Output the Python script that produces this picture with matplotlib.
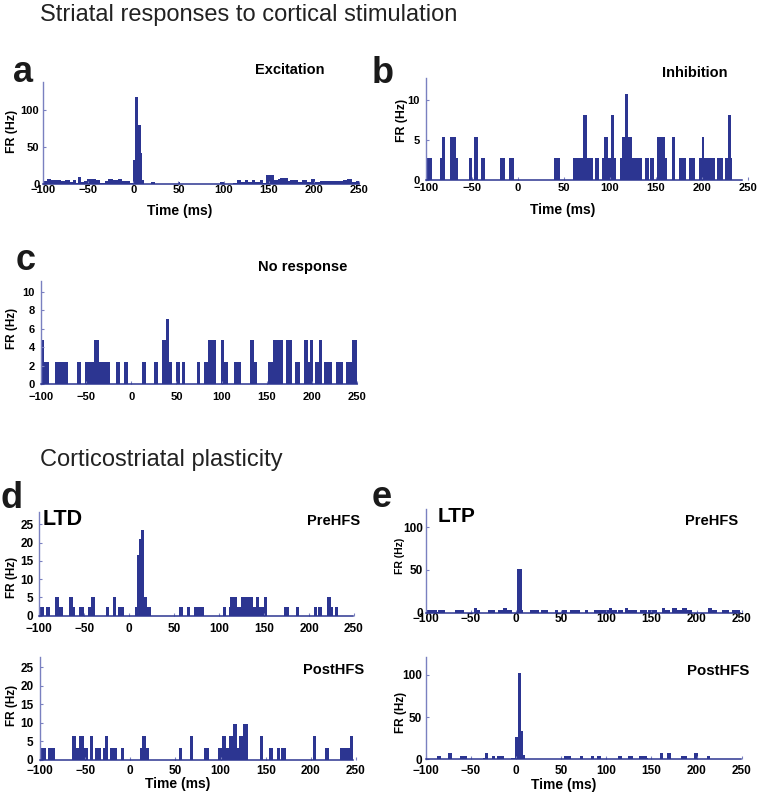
import matplotlib
matplotlib.use("Agg")
import matplotlib.pyplot as plt

plt.rcParams['font.family'] = ['Liberation Sans', 'DejaVu Sans']
plt.rcParams['font.weight'] = 'bold'
plt.rcParams['axes.labelweight'] = 'bold'

# ---------------- data (step histograms: bin edges in ms, firing rate in Hz) ----------------
a_edges = [-100, -96, -91, -80, -76, -70, -67, -63, -61, -57.5, -55, -51, -41, -37, -31.5, -28,
           -22.5, -17, -12, -4, 0, 2, 5.5, 8, 10, 12, 20, 24, 50, 51.5, 96, 100, 110.5, 115, 119,
           123.5, 127, 131, 134.5, 140, 144, 147.5, 155.5, 160.5, 162.5, 171.5, 174, 182.5, 186.5,
           192, 196.5, 201, 206.5, 232.5, 236.5, 242, 246.5, 250]
a_rates = [4, 7, 6, 4, 6, 3, 5, 2, 10, 3, 4, 7, 5, 2, 4, 7, 5, 7, 4, 2, 32, 118, 80, 42, 5, 0, 3,
           0, 3, 0, 3, 0, 2, 5, 3, 5, 3, 6, 3, 5, 2, 12, 5, 7, 8, 4, 6, 3, 5, 3, 7, 3, 4, 5, 7, 3, 4]

b_edges = [-99, -93, -85, -83, -79.5, -73.5, -67.5, -65, -53.5, -50, -47.5, -44, -40, -36, -20,
           -14.5, -10, -4.5, 39, 46, 60, 71, 75.5, 81.5, 83.5, 87.5, 91, 94, 97.5, 101, 104.5,
           106.5, 111, 113, 116.5, 120, 124, 135, 138.5, 142, 144, 148, 151.5, 160, 162, 167.5,
           171, 175.5, 183, 185.5, 192.5, 197, 199.5, 202.5, 214.5, 216, 223, 224.5, 228.5, 231.5,
           233, 244]
b_rates = [2.7, 0, 2.7, 5.4, 0, 5.4, 2.7, 0, 2.7, 0, 5.4, 0, 2.7, 0, 2.7, 0, 2.7, 0, 2.7, 0, 2.7,
           8.1, 2.7, 0, 2.7, 0, 2.7, 5.4, 2.7, 8.1, 2.7, 0, 2.7, 5.4, 10.8, 5.4, 2.7, 0, 2.7, 0,
           2.7, 0, 5.4, 2.7, 0, 5.4, 0, 2.7, 0, 2.7, 0, 2.7, 5.4, 2.7, 0, 2.7, 0, 2.7, 8.1, 2.7, 0]

c_edges = [-100, -96.5, -91, -84, -70, -60, -56, -51.5, -41.5, -36, -23.5, -16.5, -12, -8, -3.5,
           11.5, 16, 25.5, 30, 33.5, 38, 42, 45.5, 49.5, 54, 56, 60, 72.5, 76.5, 80.5, 85, 93.5,
           99, 103, 107.5, 113.5, 121, 131.5, 136, 139, 151.5, 157, 167.5, 171, 177.5, 181, 186.5,
           191, 196, 197.5, 201.5, 203, 207.5, 211.5, 213.5, 222.5, 227, 234.5, 237.5, 245, 249.5]
c_rates = [4.8, 2.4, 0, 2.4, 0, 2.4, 0, 2.4, 4.8, 2.4, 0, 2.4, 0, 2.4, 0, 2.4, 0, 2.4, 0, 4.8,
           7.1, 2.4, 0, 2.4, 0, 2.4, 0, 2.4, 0, 2.4, 4.8, 0, 4.8, 2.4, 0, 2.4, 0, 4.8, 2.4, 0,
           2.4, 4.8, 0, 4.8, 0, 2.4, 0, 4.8, 2.4, 4.8, 0, 2.4, 4.8, 0, 2.4, 0, 2.4, 0, 2.4, 4.8]

d_pre_edges = [-100, -94.5, -92.5, -88, -82.5, -78, -74, -66.5, -62, -60, -56, -50.5, -46, -42.5,
               -38, -26, -22, -18.5, -14.5, -12, -6, 6.5, 9, 11, 13.5, 17, 19.5, 24, 55.5, 59.5,
               64, 67.5, 72, 83, 104, 107.5, 110.5, 112, 120, 124, 138, 141, 144.5, 150, 153.5,
               172, 178, 185.5, 189, 205, 208.5, 210.5, 214, 220.5, 224, 227, 229, 232.5, 249]
d_pre_rates = [2.5, 0, 2.5, 0, 5, 2.5, 0, 5, 2.5, 0, 2.5, 0, 2.5, 5, 0, 2.5, 0, 5, 0, 2.5, 0,
               2.5, 16.5, 21, 23.5, 5, 2.5, 0, 2.5, 0, 2.5, 0, 2.5, 0, 2.5, 0, 2.5, 5, 2.5, 5,
               2.5, 5, 2.5, 5, 0, 2.5, 0, 2.5, 0, 2.5, 0, 2.5, 0, 5, 2.5, 0, 2.5, 0]

d_post_edges = [-99, -93, -91, -83, -65, -60.5, -56.5, -51, -47, -44.5, -41, -39, -32.5, -30.5,
                -28.5, -25, -23, -15, -10.5, -6.5, 11, 13.5, 17.5, 21, 54, 57.5, 66, 69.5, 81.5,
                87.5, 97.5, 102, 106.5, 109, 114, 118, 120.5, 125, 130, 143.5, 147.5, 154, 158,
                162.5, 166, 167, 172, 202.5, 205.5, 216, 220, 232, 243.5, 246.5]
d_post_rates = [3.2, 0, 3.2, 0, 6.4, 3.2, 6.4, 3.2, 0, 6.4, 0, 3.2, 0, 3.2, 6.4, 0, 3.2, 0, 3.2,
                0, 3.2, 6.4, 3.2, 0, 3.2, 0, 6.4, 0, 3.2, 0, 3.2, 6.4, 3.2, 6.4, 9.6, 3.2, 6.4,
                9.6, 0, 6.4, 0, 3.2, 0, 3.2, 0, 3.2, 0, 6.4, 0, 3.2, 0, 3.2, 6.4]

e_pre_edges = [-99, -88, -86, -78.5, -67.5, -58, -47, -43, -40, -30.5, -23, -19.5, -14, -10.5,
               -4.5, 1.5, 6.5, 8, 15.5, 25, 27.5, 36, 43.5, 47, 50.5, 56, 60, 71, 76.5, 80, 86,
               102.5, 106, 111.5, 113.5, 119, 121, 124.5, 134, 137.5, 145, 146.5, 156, 161.5, 165,
               170.5, 172.5, 178, 183.5, 189, 194.5, 213, 217, 222.5, 228, 235.5, 239, 248]
e_pre_rates = [3, 1, 3, 0, 3, 0, 5, 3, 0, 3, 0, 3, 5, 3, 0, 51, 3, 0, 3, 0, 3, 0, 3, 0, 3, 0, 3,
               0, 3, 0, 3, 5, 3, 0, 3, 0, 5, 3, 0, 3, 0, 3, 0, 5, 3, 0, 5, 3, 5, 3, 0, 5, 3, 0,
               3, 0, 3]

e_post_edges = [-100, -87, -82.5, -75, -70.5, -62.5, -54, -37, -34.5, -30.5, -27, -23, -20.5,
                -13, -6, -1, 2, 5.5, 8, 10, 53, 60.5, 71, 74.5, 83, 86, 90, 94, 113.5, 117, 124.5,
                130, 136.5, 145, 146.5, 159, 162.5, 167.5, 171.5, 182.5, 189, 197.5, 202, 212,
                215, 249]
e_post_rates = [0, 4, 0, 7, 0, 4, 0, 2, 7, 0, 4, 0, 4, 0, 2, 26, 102, 34, 5, 0, 4, 0, 4, 0, 4,
                0, 4, 0, 4, 0, 4, 0, 4, 2, 0, 7, 0, 7, 0, 4, 0, 7, 0, 4, 0]

x_ticks = [-100, -50, 0, 50, 100, 150, 200, 250]
a_yticks = [0, 50, 100]
b_yticks = [0, 5, 10]
c_yticks = [0, 2, 4, 6, 8, 10]
d_yticks = [0, 5, 10, 15, 20, 25]
e_yticks = [0, 50, 100]

# ---------------- layout / style ----------------
W, H, DPI = 757, 797, 100
BAR = '#2c3591'
AXC = '#7a80c0'

fig = plt.figure(figsize=(W / DPI, H / DPI), dpi=DPI)


def ftext(x, y, s, **kw):
    kw.setdefault('va', 'baseline')
    kw.setdefault('ha', 'left')
    fig.text(x / W, 1 - y / H, s, **kw)


panels = [
    # edges, rates, yticks, (left, right, zero_y, top_y), ytop, xpad, ypad, fs, ylab_xy, xlab_xy, ylab_fs
    (a_edges, a_rates, a_yticks, (43, 359, 184, 82), 138, 0.5, 2.7, 8, (-0.079, 0.52), (0.434, -0.2), 8.8),
    (b_edges, b_rates, b_yticks, (426, 748, 180, 78), 12.75, 2.5, 4.3, 8, (-0.056, 0.58), (0.425, -0.225), 8.8),
    (c_edges, c_rates, c_yticks, (41, 357, 384, 281), 11.2, 5.4, 4.3, 8, (-0.073, 0.54), None, 8.5),
    (d_pre_edges, d_pre_rates, d_yticks, (39.3, 354, 615.7, 511.7), 28.5, 5.6, 4.3, 8.5, (-0.068, 0.372), None, 8.5),
    (d_post_edges, d_post_rates, d_yticks, (40, 356, 760, 656.7), 27.8, 3.3, 4.8, 8.5, (-0.07, 0.53), (0.437, -0.165), 8.5),
    (e_pre_edges, e_pre_rates, e_yticks, (425.7, 741.7, 612.7, 509), 121.4, 0.3, 2.2, 8.5, (-0.0655, 0.547), None, 7.5),
    (e_post_edges, e_post_rates, e_yticks, (425.7, 741.7, 759.3, 656.7), 121.7, 3.8, 2.9, 8.5, (-0.059, 0.46), (0.438, -0.182), 8.5),
]

for (edges, rates, yt, (l, r, z, t), ytop, xpad, ypad, fs, ylxy, xlxy, ylfs) in panels:
    ax = fig.add_axes([l / W, 1 - z / H, (r - l) / W, (z - t) / H])
    ax.stairs(rates, edges, fill=True, color=BAR, linewidth=0)
    ax.set_xlim(-100, 250)
    ax.set_ylim(0, ytop)
    ax.set_xticks(x_ticks)
    ax.set_yticks(yt)
    for s in ('top', 'right'):
        ax.spines[s].set_visible(False)
    ax.spines['left'].set_color(AXC)
    ax.spines['left'].set_linewidth(1.0)
    ax.spines['bottom'].set_color(BAR)
    ax.spines['bottom'].set_linewidth(1.1)
    ax.spines['bottom'].set_bounds(-100, edges[-1])
    ax.tick_params(axis='both', direction='in', length=2.5, width=0.8, color=AXC,
                   labelsize=fs)
    ax.tick_params(axis='x', pad=xpad)
    ax.tick_params(axis='y', pad=ypad)
    for lab in ax.get_xticklabels() + ax.get_yticklabels():
        lab.set_fontweight('bold')
    ax.set_ylabel('FR (Hz)', fontsize=ylfs)
    ax.yaxis.set_label_coords(*ylxy)
    if xlxy is not None:
        ax.set_xlabel('Time (ms)', fontsize=10)
        ax.xaxis.set_label_coords(*xlxy)

# section titles
ftext(40.5, 20.5, 'Striatal responses to cortical stimulation', fontsize=17,
      fontweight='normal', color='#222222')
ftext(40.5, 466, 'Corticostriatal plasticity', fontsize=17, fontweight='normal',
      color='#222222')

# panel letters
for (x, y, s) in [(13, 82, 'a'), (372, 83, 'b'), (16, 270, 'c'), (1, 508, 'd'), (372, 507, 'e')]:
    ftext(x, y, s, fontsize=26, fontweight='bold', color='#1a1a1a')

# panel captions
ftext(255, 74, 'Excitation', fontsize=10.5)
ftext(662, 77, 'Inhibition', fontsize=10.5)
ftext(258, 270.5, 'No response', fontsize=10.5)
ftext(43, 525, 'LTD', fontsize=15.5)
ftext(307, 525, 'PreHFS', fontsize=10.5)
ftext(303, 674, 'PostHFS', fontsize=10.5)
ftext(438, 522, 'LTP', fontsize=15)
ftext(685, 525, 'PreHFS', fontsize=10.5)
ftext(687, 675, 'PostHFS', fontsize=10.8)

fig.savefig('out.png', dpi=DPI)
